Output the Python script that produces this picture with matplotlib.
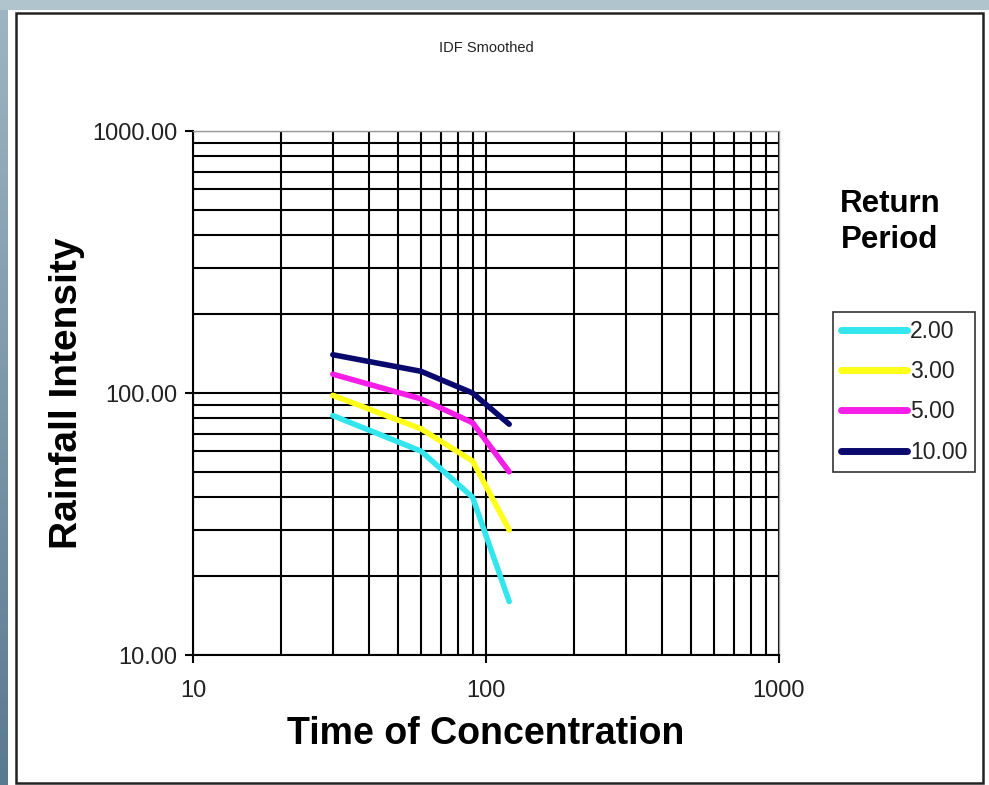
import numpy as np
import matplotlib
matplotlib.use("Agg")
import matplotlib.pyplot as plt
from matplotlib.patches import Rectangle
from matplotlib.ticker import LogLocator, FixedLocator, NullFormatter
from matplotlib.colors import LinearSegmentedColormap

plt.rcParams['font.family'] = ['Liberation Sans', 'DejaVu Sans']

# Data
durations = [30, 60, 90, 120]
return_periods = ["2.00", "3.00", "5.00", "10.00"]
intensity_2 = [82, 60, 40, 16]
intensity_3 = [98, 73, 55, 30]
intensity_5 = [118, 95, 77, 50]
intensity_10 = [140, 121, 100, 76]
series = [intensity_2, intensity_3, intensity_5, intensity_10]
colors = ["#33e6ee", "#ffff1a", "#f41ee6", "#0a0a6e"]

x_ticks = [10, 100, 1000]
x_ticklabels = ["10", "100", "1000"]
y_ticks = [10, 100, 1000]
y_ticklabels = ["10.00", "100.00", "1000.00"]

W, H = 989, 785
fig = plt.figure(figsize=(W / 100, H / 100), dpi=100)
fig.patch.set_facecolor("white")

# Slide-like background frame: light band on top, gradient band on the left
fig.patches.append(Rectangle((0, 1 - 10 / H), 1, 10 / H, transform=fig.transFigure,
                             facecolor="#b0c4cd", edgecolor="none", zorder=0))
band = fig.add_axes([0, 0, 8 / W, 1 - 10 / H])
cmap = LinearSegmentedColormap.from_list("band", ["#9db5c2", "#7b98aa", "#5a7a90"])
band.imshow(np.linspace(0, 1, 100).reshape(-1, 1), aspect="auto", cmap=cmap)
band.set_axis_off()

# Chart border
fig.patches.append(Rectangle((16 / W, 2 / H), (983 - 16) / W, (H - 13 - 2) / H,
                             transform=fig.transFigure, facecolor="none",
                             edgecolor="#222222", linewidth=1.8, zorder=1))

ax = fig.add_axes([193 / W, 1 - 655 / H, (779 - 193) / W, (655 - 131) / H])
ax.set_xscale("log")
ax.set_yscale("log")
ax.set_xlim(10, 1000)
ax.set_ylim(10, 1000)

for vals, col, lab in zip(series, colors, return_periods):
    ax.plot(durations, vals, color=col, linewidth=4, label=lab,
            solid_capstyle="round", zorder=3)

ax.xaxis.set_major_locator(FixedLocator(x_ticks))
ax.yaxis.set_major_locator(FixedLocator(y_ticks))
ax.set_xticklabels(x_ticklabels)
ax.set_yticklabels(y_ticklabels)
ax.xaxis.set_minor_locator(LogLocator(base=10, subs=np.arange(2, 10)))
ax.yaxis.set_minor_locator(LogLocator(base=10, subs=np.arange(2, 10)))
ax.xaxis.set_minor_formatter(NullFormatter())
ax.yaxis.set_minor_formatter(NullFormatter())
ax.grid(True, which="both", color="black", linewidth=1.5)
ax.set_axisbelow(True)
ax.tick_params(which="major", length=6, width=1.5, color="black",
               labelsize=17, labelcolor="#222222")
ax.tick_params(axis="x", which="major", pad=12)
ax.tick_params(axis="y", which="major", pad=5)
ax.tick_params(which="minor", length=0)

for side in ["left", "bottom"]:
    ax.spines[side].set_color("black")
    ax.spines[side].set_linewidth(1.5)
for side in ["right", "top"]:
    ax.spines[side].set_color("#999999")
    ax.spines[side].set_linewidth(1.0)

ax.set_xlabel("Time of Concentration", fontsize=27, fontweight="bold", labelpad=10)
ax.set_ylabel("Rainfall Intensity", fontsize=28, fontweight="bold", labelpad=5.5)
fig.text(0.5 * (193 + 779) / W, 1 - 48 / H, "IDF Smoothed", ha="center",
         va="center", fontsize=10.5, color="#222222")

fig.text(890 / W, 1 - 222 / H, "Return\nPeriod", ha="center", va="center",
         fontsize=22.5, fontweight="bold", linespacing=1.3)

leg = ax.legend(loc="upper left", bbox_to_anchor=(833 / W, 1 - 312 / H),
                bbox_transform=fig.transFigure, frameon=True, fancybox=False,
                fontsize=16.5, handlelength=2.9, handletextpad=0.1,
                labelspacing=0.75, borderpad=0.35, borderaxespad=0)
leg.get_frame().set_edgecolor("black")
leg.get_frame().set_linewidth(1.2)
for t in leg.get_texts():
    t.set_color("#222222")
for line in leg.get_lines():
    line.set_linewidth(5)

fig.savefig("out.png", dpi=100)
